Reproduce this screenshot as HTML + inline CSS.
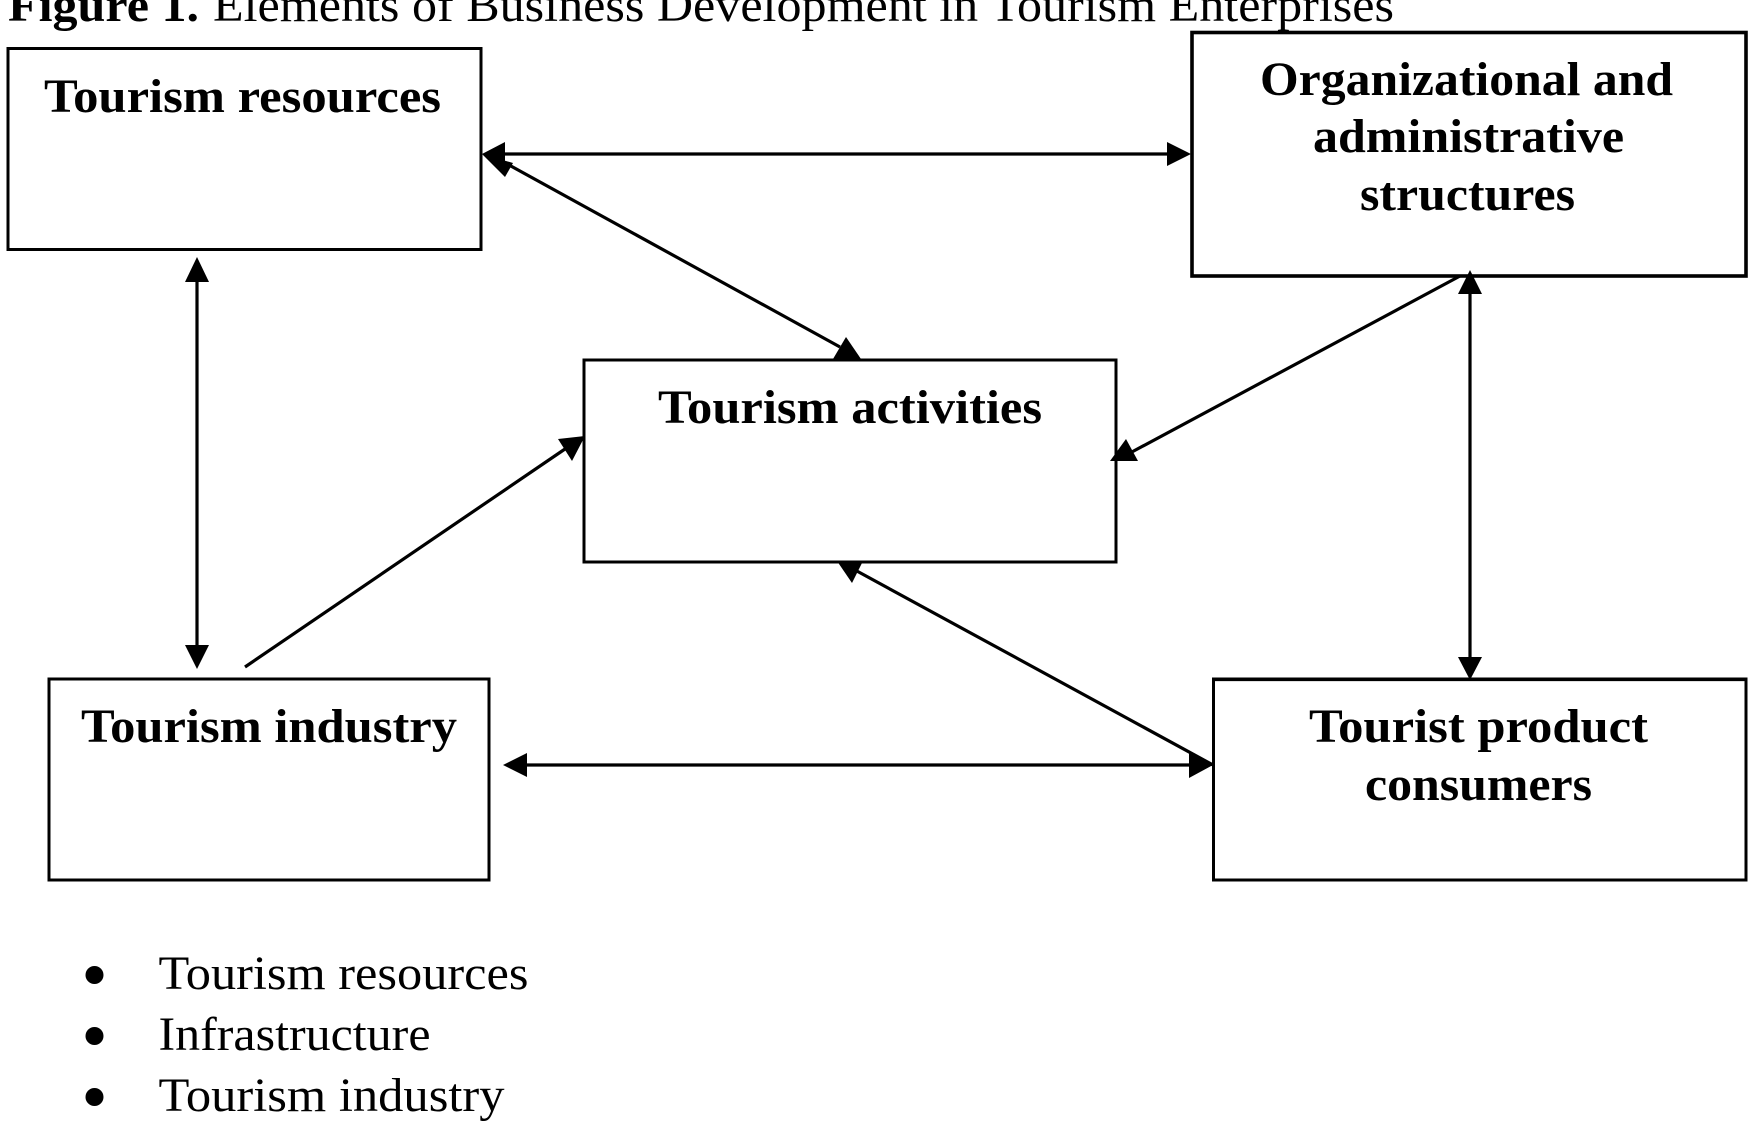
<!DOCTYPE html>
<html>
<head>
<meta charset="utf-8">
<title>Elements of Business Development in Tourism Enterprises</title>
<style>
html,body{margin:0;padding:0;background:#fff;width:1756px;height:1127px;overflow:hidden}
svg{display:block}
text{font-family:"Liberation Serif",serif;font-size:48px;fill:#000}
.b{font-weight:bold}
rect{fill:none;stroke:#000;stroke-width:3}
line{stroke:#000;stroke-width:3.2}
polygon{fill:#000}
</style>
</head>
<body>
<svg width="1756" height="1127" viewBox="0 0 1756 1127" xmlns="http://www.w3.org/2000/svg">
<text class="b" x="8" y="21" textLength="191" lengthAdjust="spacingAndGlyphs">Figure 1.</text>
<text x="213" y="21" textLength="1181" lengthAdjust="spacingAndGlyphs">Elements of Business Development in Tourism Enterprises</text>

<rect x="8" y="48.5" width="473" height="201"/>
<rect x="1192" y="32.5" width="554" height="243.5" style="stroke-width:3.6"/>
<rect x="584" y="360" width="532" height="202"/>
<rect x="49" y="679" width="440" height="201"/>
<rect x="1213.5" y="679" width="532.5" height="201"/>
<line x1="1213" y1="679.5" x2="1746" y2="679.5"/>

<text class="b" x="44" y="112" textLength="397" lengthAdjust="spacingAndGlyphs">Tourism resources</text>
<text class="b" x="1260" y="95" textLength="413" lengthAdjust="spacingAndGlyphs">Organizational and</text>
<text class="b" x="1313" y="152" textLength="311" lengthAdjust="spacingAndGlyphs">administrative</text>
<text class="b" x="1360" y="210" textLength="215" lengthAdjust="spacingAndGlyphs">structures</text>
<text class="b" x="658" y="423" textLength="384" lengthAdjust="spacingAndGlyphs">Tourism activities</text>
<text class="b" x="81" y="742" textLength="376" lengthAdjust="spacingAndGlyphs">Tourism industry</text>
<text class="b" x="1309" y="742" textLength="339" lengthAdjust="spacingAndGlyphs">Tourist product</text>
<text class="b" x="1365" y="800" textLength="227" lengthAdjust="spacingAndGlyphs">consumers</text>

<line x1="500" y1="154" x2="1170" y2="154"/>
<polygon points="482,154 505,142 505,166"/>
<polygon points="1191,154 1167,142 1167,166"/>

<line x1="500" y1="160" x2="840" y2="347"/>
<polygon points="482,154 505,177 513,163"/>
<polygon points="846,337 833,359 861,359"/>

<line x1="197" y1="275" x2="197" y2="650"/>
<polygon points="197,257 185,282 209,282"/>
<polygon points="197,669 185,645 209,645"/>

<line x1="245" y1="667" x2="565" y2="449"/>
<polygon points="585,436 558,439 572,461"/>

<line x1="1460" y1="276" x2="1130" y2="453"/>
<polygon points="1126,439 1110,461 1138,461"/>

<line x1="1470" y1="285" x2="1470" y2="660"/>
<polygon points="1470,270 1458,294 1482,294"/>
<polygon points="1470,680 1458,657 1482,657"/>

<line x1="855" y1="570" x2="1213" y2="765"/>
<polygon points="852,583 837,561 863,561"/>

<line x1="520" y1="765" x2="1195" y2="765"/>
<polygon points="503,765 527,753 527,777"/>
<polygon points="1213,765 1189,753 1189,778"/>

<circle cx="94.5" cy="975" r="9" fill="#000"/>
<circle cx="94.5" cy="1036" r="9" fill="#000"/>
<circle cx="94.5" cy="1097" r="9" fill="#000"/>
<text x="158.5" y="989" textLength="370" lengthAdjust="spacingAndGlyphs">Tourism resources</text>
<text x="158.5" y="1050" textLength="272" lengthAdjust="spacingAndGlyphs">Infrastructure</text>
<text x="158.5" y="1111" textLength="346" lengthAdjust="spacingAndGlyphs">Tourism industry</text>
</svg>
</body>
</html>
